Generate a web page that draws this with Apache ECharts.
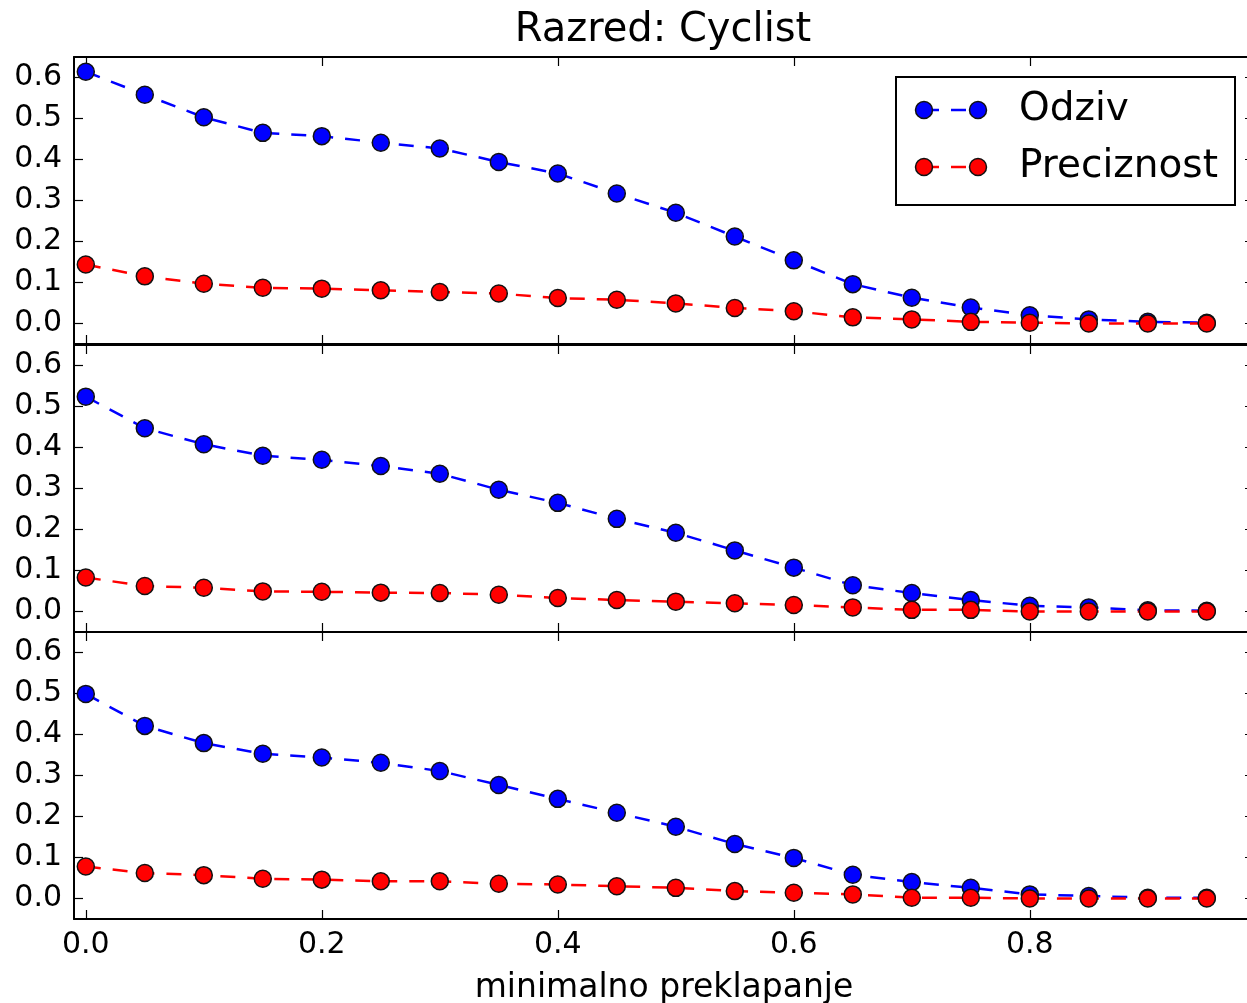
<!DOCTYPE html>
<html>
<head>
<meta charset="utf-8">
<script src="https://cdn.jsdelivr.net/npm/echarts@6/dist/echarts.min.js"></script>
<style>
  html, body { margin: 0; padding: 0; background: #fff; }
  #chart { width: 1247px; height: 1003px; }
</style>
</head>
<body>
<div id="chart"></div>
<script>
// minimalno preklapanje (x)
var overlap = [0, 0.05, 0.1, 0.15, 0.2, 0.25, 0.3, 0.35, 0.4, 0.45,
               0.5, 0.55, 0.6, 0.65, 0.7, 0.75, 0.8, 0.85, 0.9, 0.95];

// gornji graf
var odziv1 = [0.614, 0.558, 0.503, 0.465, 0.457, 0.441, 0.427, 0.394, 0.366, 0.317,
              0.270, 0.212, 0.154, 0.096, 0.063, 0.039, 0.020, 0.010, 0.004, 0.002];
var prec1 = [0.144, 0.115, 0.097, 0.087, 0.085, 0.081, 0.077, 0.073, 0.062, 0.058,
             0.049, 0.038, 0.030, 0.015, 0.010, 0.004, 0.002, 0.000, 0.000, 0.000];

// srednji graf
var odziv2 = [0.524, 0.447, 0.408, 0.380, 0.370, 0.355, 0.336, 0.297, 0.265, 0.226,
              0.192, 0.149, 0.107, 0.064, 0.045, 0.028, 0.014, 0.010, 0.003, 0.002];
var prec2 = [0.083, 0.062, 0.058, 0.049, 0.048, 0.046, 0.045, 0.041, 0.033, 0.028,
             0.024, 0.020, 0.016, 0.010, 0.004, 0.004, 0.000, 0.000, 0.000, 0.000];

// donji graf
var odziv3 = [0.499, 0.421, 0.379, 0.353, 0.344, 0.331, 0.311, 0.277, 0.243, 0.209,
              0.175, 0.133, 0.099, 0.058, 0.040, 0.026, 0.010, 0.006, 0.002, 0.002];
var prec3 = [0.078, 0.062, 0.057, 0.048, 0.046, 0.042, 0.042, 0.036, 0.034, 0.030,
             0.026, 0.018, 0.014, 0.010, 0.002, 0.002, 0.000, 0.000, 0.000, 0.000];

var xTicks = [0, 0.2, 0.4, 0.6, 0.8];
var yTicks = [0, 0.1, 0.2, 0.3, 0.4, 0.5, 0.6];

var FONT = "DejaVu Sans";
var panels = [[odziv1, prec1], [odziv2, prec2], [odziv3, prec3]];
var gridTops = [57, 345, 632];

function pairs(ys) {
  return overlap.map(function (x, i) { return [x, ys[i]]; });
}

var grids = [], xAxes = [], yAxes = [], series = [];
panels.forEach(function (p, g) {
  grids.push({ left: 74, width: 1180, top: gridTops[g], height: 287,
               outerBoundsMode: "none", containLabel: false });
  ["bottom", "top"].forEach(function (pos) {
    xAxes.push({
      type: "value", gridIndex: g, position: pos, min: -0.01, max: 0.99,
      axisLine: { show: true, onZero: false, lineStyle: { color: "#000", width: 2 } },
      axisTick: { show: true, inside: true, length: 9, customValues: xTicks,
                  lineStyle: { color: "#000", width: 1.2 } },
      axisLabel: { show: pos === "bottom" && g === 2, customValues: xTicks, margin: 11,
                   color: "#000", fontSize: 30, fontFamily: FONT,
                   formatter: function (v) { return v.toFixed(1); } },
      splitLine: { show: false }
    });
  });
  ["left", "right"].forEach(function (pos) {
    yAxes.push({
      type: "value", gridIndex: g, position: pos, min: -0.05, max: 0.65,
      axisLine: { show: true, onZero: false, lineStyle: { color: "#000", width: 2 } },
      axisTick: { show: true, inside: true, length: 9, customValues: yTicks,
                  lineStyle: { color: "#000", width: 1.2 } },
      axisLabel: { show: pos === "left", customValues: yTicks, margin: 12,
                   color: "#000", fontSize: 30, fontFamily: FONT,
                   formatter: function (v) { return v.toFixed(1); } },
      splitLine: { show: false }
    });
  });
  [["Odziv", "#0000ff", p[0]], ["Preciznost", "#ff0000", p[1]]].forEach(function (s) {
    series.push({
      name: s[0], type: "line", xAxisIndex: g * 2, yAxisIndex: g * 2,
      data: pairs(s[2]),
      symbol: "circle", symbolSize: 17,
      itemStyle: { color: s[1], borderColor: "#111", borderWidth: 1.5 },
      lineStyle: { color: s[1], width: 2.5, type: [15, 12] },
      emphasis: { disabled: true }
    });
  });
});

function legendRow(y, color, label) {
  return [
    { type: "line", shape: { x1: 924, y1: y, x2: 978, y2: y },
      style: { stroke: color, lineWidth: 2.5, lineDash: [15, 12] } },
    { type: "circle", shape: { cx: 924, cy: y, r: 8.5 },
      style: { fill: color, stroke: "#111", lineWidth: 1.5 } },
    { type: "circle", shape: { cx: 978, cy: y, r: 8.5 },
      style: { fill: color, stroke: "#111", lineWidth: 1.5 } },
    { type: "text", x: 1019, y: y,
      style: { text: label, fill: "#000", font: "39px " + FONT, verticalAlign: "middle" } }
  ];
}

var chart = echarts.init(document.getElementById("chart"));
chart.setOption({
  animation: false,
  backgroundColor: "#fff",
  grid: grids,
  xAxis: xAxes,
  yAxis: yAxes,
  series: series,
  graphic: [
    { type: "text", x: 663, y: 31, z: 100,
      style: { text: "Razred: Cyclist", fill: "#000", font: "40px " + FONT,
               align: "center", verticalAlign: "middle" } },
    { type: "text", x: 664, y: 988, z: 100,
      style: { text: "minimalno preklapanje", fill: "#000", font: "33px " + FONT,
               align: "center", verticalAlign: "middle" } },
    { type: "group", z: 100, children: [
      { type: "rect", shape: { x: 896, y: 77, width: 339, height: 128 },
        style: { fill: "#fff", stroke: "#000", lineWidth: 2 } }
    ].concat(legendRow(110, "#0000ff", "Odziv"), legendRow(167, "#ff0000", "Preciznost")) }
  ]
});
</script>
</body>
</html>
